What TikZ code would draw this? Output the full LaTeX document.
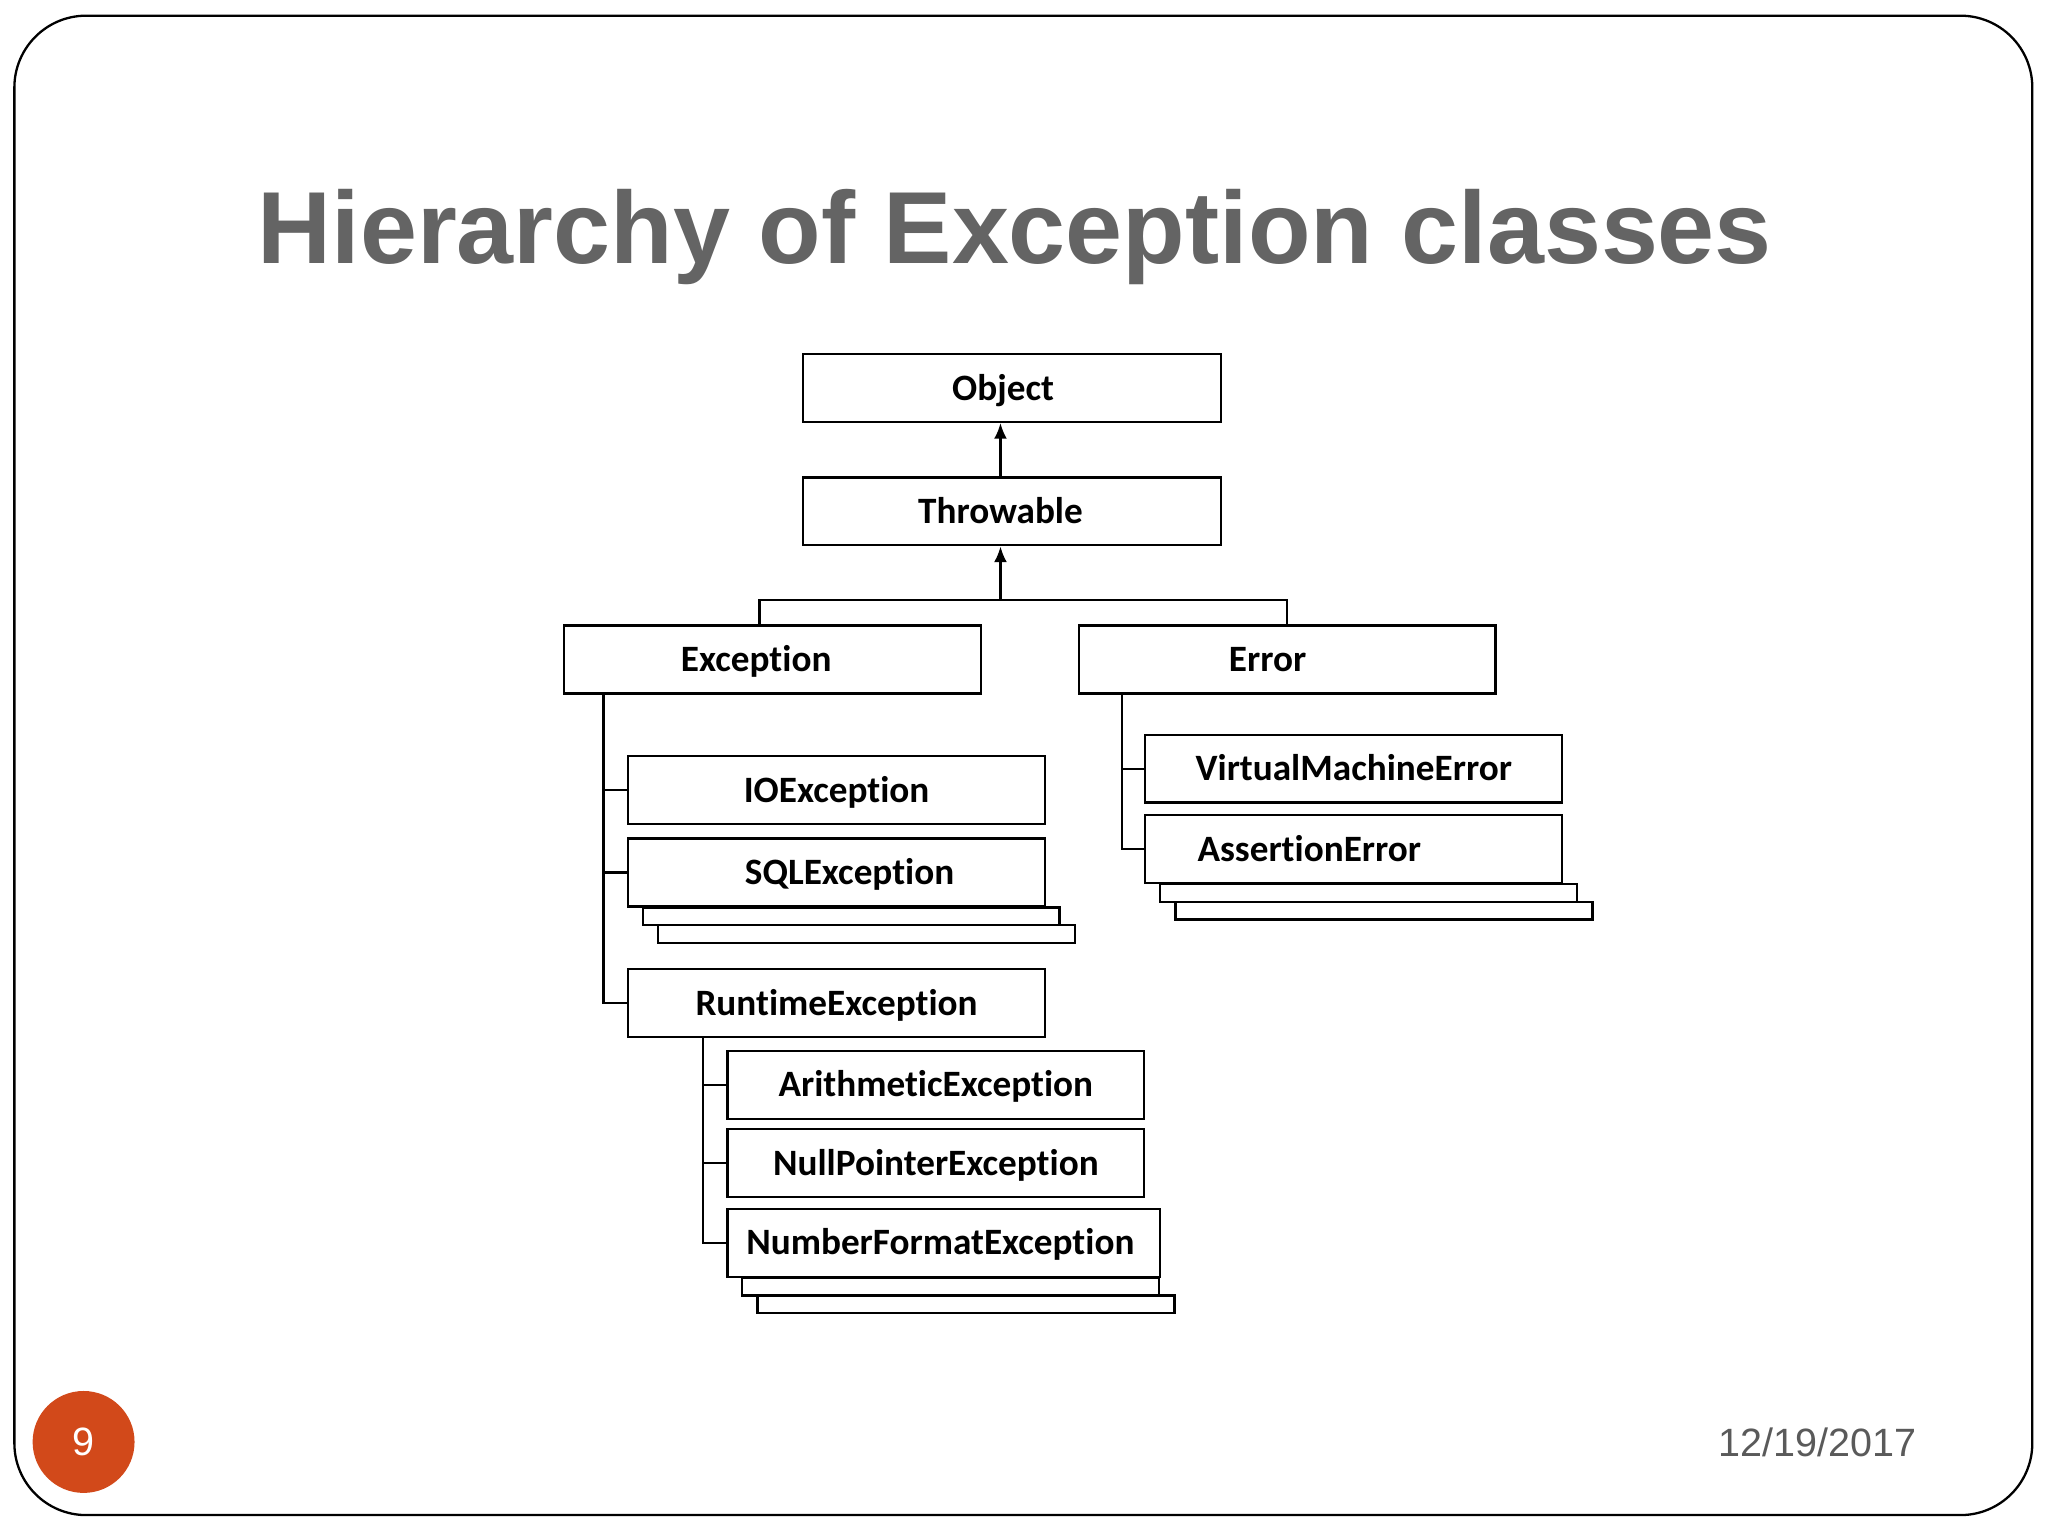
\documentclass[tikz,border=0pt]{standalone}
\usepackage{fontspec}
\setmainfont{Liberation Sans}
\newfontfamily\boxfont[Ligatures=NoCommon]{Carlito}
\usetikzlibrary{calc, positioning, arrows.meta}

\definecolor{titlegray}{HTML}{646464}
\definecolor{dategray}{HTML}{5A5A5A}
\definecolor{slideorange}{HTML}{D2491A}

\tikzset{
  cls/.style={draw, line width=0.5pt, fill=white, minimum width=3.19cm, minimum height=0.52cm,
    inner sep=0pt, text height=0.24cm, text depth=0.055cm,
    font=\boxfont\bfseries\fontsize{8.1}{9}\selectfont},
  nudge/.style={execute at begin node={\hspace*{#1}}},
  link/.style={line width=0.5pt}
}

% two strips peeking out under a class box
\newcommand\shadowstack[1]{%
  \foreach \k in {1,2}
    \draw[line width=0.5pt] ([shift={({\k*0.12cm},{-(\k-1)*0.135cm})}]#1.south west) rectangle ++(3.19cm,-0.135cm);}

\begin{document}
\begin{tikzpicture}[x=0.01cm, y=-0.01cm, >={Latex[length=3.4pt,width=2.8pt]}]
  \useasboundingbox (0,0) rectangle (1568,1176);
  \draw[line width=0.5pt, rounded corners=0.55cm] (11,12) rectangle (1556,1160);

  \node (title) [anchor=base, text=titlegray, font=\bfseries\fontsize{22.3}{26}\selectfont] at (777,201.5) {Hierarchy of Exception classes};

  % classes
  \node (obj) [cls, minimum width=3.2cm, nudge=-0.14cm] at (775,297) {Object};
  \node (thr) [cls, minimum width=3.2cm, nudge=-0.18cm] at (775,391.5) {Throwable};
  \node (exc) [cls, nudge=-0.25cm] at (591.5,505) {Exception};
  \node (err) [cls, nudge=-0.30cm] at (985.5,505) {Error};
  \node (ioex) [cls] at (640.5,605) {IOException};
  \node (sqlex) [cls, nudge=0.2cm] at (640.5,668) {SQLException};
  \node (rte) [cls] at (640.5,768) {RuntimeException};
  \node (vm) [cls] at (1036.5,588.5) {VirtualMachineError};
  \node (asrt) [cls, nudge=-0.68cm] at (1036.5,650) {AssertionError};
  \node (arith) [cls] at (716.5,830.5) {ArithmeticException};
  \node (npe) [cls] at (716.5,890.5) {NullPointerException};
  \node (nfe) [cls, minimum width=3.31cm, nudge=-0.05cm] at (722.5,951.5) {NumberFormatException};

  \shadowstack{sqlex}
  \shadowstack{asrt}
  \shadowstack{nfe}

  % inheritance links
  \draw[link, ->] ([xshift=-0.09cm]thr.north) -- ([xshift=-0.09cm]obj.south);
  \coordinate (split) at ([xshift=-0.09cm, yshift=-0.41cm]thr.south);
  \draw[link, ->] (split) -- (split |- thr.south);
  \draw[link] ([xshift=-0.1cm]exc.north) |- (split) -| (err.north);

  \coordinate (exctrunk) at ([xshift=0.31cm]exc.south west);
  \draw[link] (exctrunk) |- (rte.west);
  \foreach \n in {ioex, sqlex}
    \draw[link] (\n.west) -- (\n.west -| exctrunk);

  \coordinate (errtrunk) at ([xshift=0.34cm]err.south west);
  \draw[link] (errtrunk) |- (asrt.west);
  \draw[link] (vm.west) -- (vm.west -| errtrunk);

  \coordinate (rtetrunk) at ([xshift=0.58cm]rte.south west);
  \draw[link] (rtetrunk) |- (nfe.west);
  \foreach \n in {arith, npe}
    \draw[link] (\n.west) -- (\n.west -| rtetrunk);

  % footer
  \node (pgnum) [circle, fill=slideorange, minimum size=0.78cm, inner sep=0pt, text=white, font=\fontsize{8.6}{10}\selectfont] at (64,1104) {9};
  \node (date) [anchor=base east, inner sep=0pt, text=dategray, font=\fontsize{8.6}{10}\selectfont] at (1468,1115) {12/19/2017};
\end{tikzpicture}
\end{document}
